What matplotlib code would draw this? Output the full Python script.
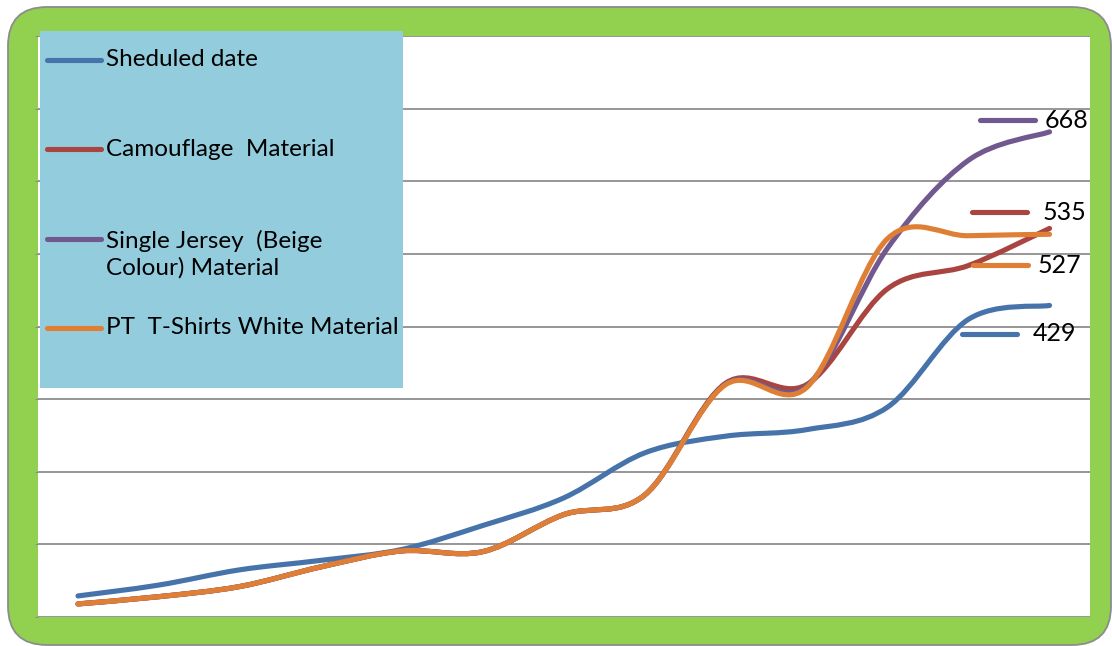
import matplotlib
matplotlib.use("Agg")
import matplotlib.pyplot as plt
from matplotlib.path import Path
from matplotlib.patches import PathPatch, FancyBboxPatch, Rectangle
from matplotlib.lines import Line2D
from matplotlib.transforms import offset_copy
import numpy as np

plt.rcParams['font.family'] = ['Lato', 'DejaVu Sans']

# ---------------- data ----------------
categories = list(range(1, 14))
series_names = ["Sheduled date", "Camouflage  Material",
                "Single Jersey  (Beige\nColour) Material",
                "PT  T-Shirts White Material"]
sheduled = [29, 44, 65, 78, 93, 126, 164, 226, 249, 258, 289, 410, 429]
camouflage = [18, 28, 42, 69, 91, 90, 141, 168, 322, 320, 452, 484, 535]
single_jersey = [18, 28, 42, 69, 91, 90, 141, 168, 321, 318, 508, 629, 668]
pt_tshirts = [18, 28, 42, 69, 91, 90, 141, 168, 320, 316, 521, 525, 527]
yticks = [0, 100, 200, 300, 400, 500, 600, 700, 800]

colors = ['#4673AA', '#AA4441', '#71598F', '#DE7F35']
series = [sheduled, camouflage, single_jersey, pt_tshirts]

W, H = 1112, 646
fig = plt.figure(figsize=(W / 100, H / 100), dpi=100)

# green rounded frame
frame = FancyBboxPatch((8 / W, 1 - 645 / H), (1111 - 8) / W, (645 - 7) / H,
                       boxstyle="round,pad=0,rounding_size=0.035",
                       transform=fig.transFigure, facecolor='#92D050',
                       edgecolor='#8C8C8C', linewidth=1.3, mutation_aspect=W / H,
                       zorder=-5)
fig.patches.append(frame)

x0, x1, yt, yb = 37.5, 1090, 36, 617
ax = fig.add_axes([x0 / W, 1 - yb / H, (x1 - x0) / W, (yb - yt) / H], zorder=1)
ax.set_facecolor('white')
ax.set_xlim(0.5, 13.5)
ax.set_ylim(0, 800)
ax.set_yticks(yticks)
ax.set_xticks([])
ax.tick_params(axis='y', length=2, color='#8C8C8C', labelleft=False)
for s in ax.spines.values():
    s.set_visible(False)
ax.grid(axis='y', color='#8E8E8E', linewidth=1.3)
ax.set_axisbelow(True)


def smooth_path(xs, ys):
    xs = np.asarray(xs, float)
    ys = np.asarray(ys, float)
    n = len(xs)
    verts = [(xs[0], ys[0])]
    codes = [Path.MOVETO]
    for i in range(n - 1):
        ip = max(i - 1, 0)
        inn = min(i + 2, n - 1)
        c1 = (xs[i] + (xs[i + 1] - xs[ip]) / 6, ys[i] + (ys[i + 1] - ys[ip]) / 6)
        c2 = (xs[i + 1] - (xs[inn] - xs[i]) / 6, ys[i + 1] - (ys[inn] - ys[i]) / 6)
        verts += [c1, c2, (xs[i + 1], ys[i + 1])]
        codes += [Path.CURVE4] * 3
    return Path(verts, codes)


for vals, c in zip(series, colors):
    p = PathPatch(smooth_path(categories, vals), facecolor='none', edgecolor=c,
                  linewidth=3.7, capstyle='round', joinstyle='round')
    ax.add_patch(p)

# end labels with legend keys (pixel offsets from last point)
label_offsets = {  # key start dx, key end dx, dy, text dx
    0: (-88, -33, -28.5, -17),
    1: (-78, -23, 16, -7),
    2: (-70, -15, 11.5, -5),
    3: (-77, -22, -31, -12),
}
xl = categories[-1]
for i, (vals, c) in enumerate(zip(series, colors)):
    k0, k1, dy, tdx = label_offsets[i]
    yl = vals[-1]
    tr = offset_copy(ax.transData, fig=fig, x=0, y=dy, units='dots')
    ax.plot([xl + k0 / 81, xl + k1 / 81], [yl, yl], color=c, lw=3.7,
            solid_capstyle='round', transform=tr, clip_on=False)
    ax.annotate(str(yl), xy=(xl, yl), xytext=(tdx, dy), textcoords='offset pixels',
                ha='left', va='center', fontsize=18, color='black',
                annotation_clip=False)

# legend box
fig.add_artist(Rectangle((40 / W, 1 - 388 / H), (403 - 40) / W, (388 - 31) / H,
                         transform=fig.transFigure, facecolor='#93CDDD',
                         edgecolor='none', zorder=5))
leg_y = [60, 149, 239, 328]
for name, c, y in zip(series_names, colors, leg_y):
    fig.add_artist(Line2D([47 / W, 101 / W], [1 - y / H, 1 - y / H], color=c,
                          lw=3.7, solid_capstyle='round', zorder=6))
    if '\n' in name:
        fig.text(106 / W, 1 - (y + 15.5) / H, name, ha='left', va='center',
                 fontsize=17.5, color='black', zorder=7, linespacing=1.3)
    else:
        fig.text(106 / W, 1 - y / H, name, ha='left', va='center',
                 fontsize=17.5, color='black', zorder=7)

fig.savefig('out.png', dpi=100)
